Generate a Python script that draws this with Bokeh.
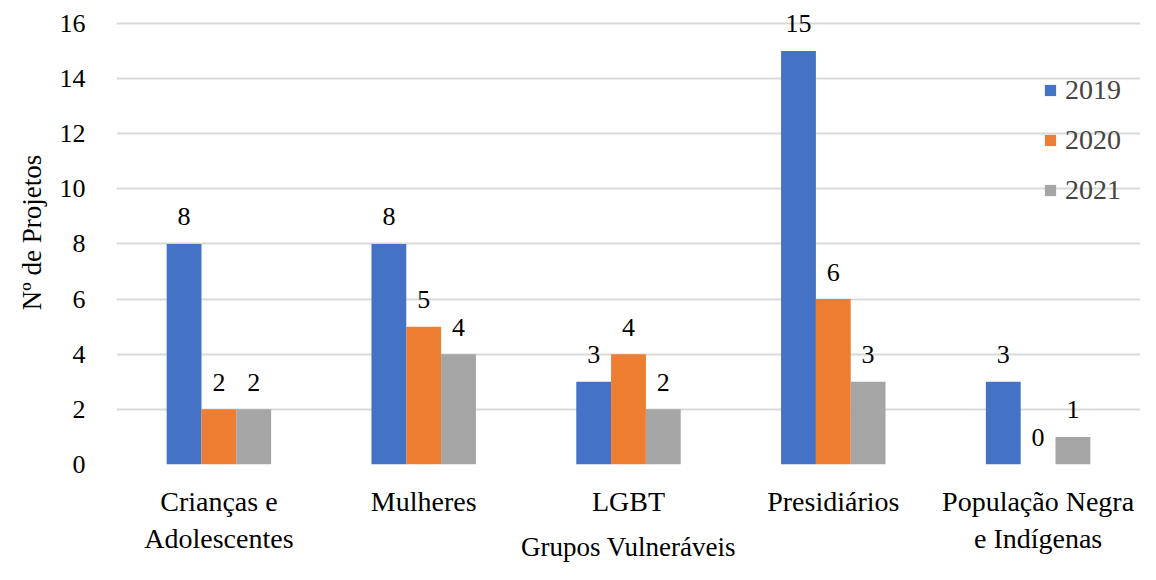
from bokeh.plotting import figure
from bokeh.models import ColumnDataSource, FactorRange, Range1d, Legend, LegendItem, FixedTicker
from bokeh.transform import dodge
from bokeh.core.properties import value
from bokeh.embed import file_html
from bokeh.resources import INLINE

categories = ["Crianças e\nAdolescentes", "Mulheres", "LGBT", "Presidiários", "População Negra\ne Indígenas"]
years = ["2019", "2020", "2021"]
v2019 = [8, 8, 3, 15, 3]
v2020 = [2, 5, 4, 6, 0]
v2021 = [2, 4, 2, 3, 1]
y_ticks = [0, 2, 4, 6, 8, 10, 12, 14, 16]
colors = ["#4472C4", "#ED7D31", "#A5A5A5"]

FONT = "Liberation Serif"

src = ColumnDataSource(dict(cat=categories, y2019=v2019, y2020=v2020, y2021=v2021,
                            t2019=[str(v) for v in v2019],
                            t2020=[str(v) for v in v2020],
                            t2021=[str(v) for v in v2021]))

p = figure(x_range=FactorRange(factors=categories, range_padding=0),
           y_range=Range1d(0, 16.83),
           width=1140, height=564, output_backend="svg", toolbar_location=None,
           min_border_left=116, min_border_right=0, min_border_top=0, min_border_bottom=96)
p.outline_line_color = None

bw = 0.17
offsets = [-bw, 0, bw]
renderers = []
for yr, off, col in zip(years, offsets, colors):
    r = p.vbar(x=dodge("cat", off, range=p.x_range), top="y" + yr, width=bw,
               source=src, fill_color=col, line_color=None)
    renderers.append(r)
    p.text(x=dodge("cat", off, range=p.x_range), y="y" + yr, text="t" + yr, source=src,
           text_align="center", text_baseline="alphabetic", y_offset=-27,
           text_font=value(FONT), text_font_size="26px", text_color="#000000")

# axes
p.yaxis.ticker = FixedTicker(ticks=y_ticks)
p.yaxis.axis_line_color = None
p.yaxis.major_tick_line_color = None
p.yaxis.minor_tick_line_color = None
p.yaxis.major_label_text_font = FONT
p.yaxis.major_label_text_font_size = "26px"
p.yaxis.major_label_text_color = "#000000"
p.yaxis.major_label_standoff = 25
p.yaxis.axis_label = "Nº de Projetos"
p.yaxis.axis_label_text_font = FONT
p.yaxis.axis_label_text_font_size = "27px"
p.yaxis.axis_label_text_font_style = "normal"
p.yaxis.axis_label_text_color = "#000000"
p.yaxis.axis_label_standoff = 10

p.xaxis.axis_line_color = None
p.xaxis.major_tick_line_color = None
p.xaxis.minor_tick_line_color = None
p.xaxis.major_label_text_font = FONT
p.xaxis.major_label_text_font_size = "28px"
p.xaxis.major_label_text_color = "#000000"
p.xaxis.major_label_standoff = 15
p.xaxis.axis_label = "Grupos Vulneráveis"
p.xaxis.axis_label_text_font = FONT
p.xaxis.axis_label_text_font_size = "27px"
p.xaxis.axis_label_text_font_style = "normal"
p.xaxis.axis_label_text_color = "#000000"
p.xaxis.axis_label_standoff = -25

p.xgrid.grid_line_color = None
p.ygrid.grid_line_color = "#d9d9d9"
p.ygrid.grid_line_width = 2

legend = Legend(items=[LegendItem(label=yr, renderers=[r]) for yr, r in zip(years, renderers)],
                location=(927, 258), margin=0, padding=0,
                glyph_width=14, glyph_height=14, label_standoff=8, spacing=18,
                label_text_font=FONT, label_text_font_size="28px",
                background_fill_alpha=0, border_line_alpha=0)
p.add_layout(legend)

open("out.html", "w").write(file_html(p, INLINE))
